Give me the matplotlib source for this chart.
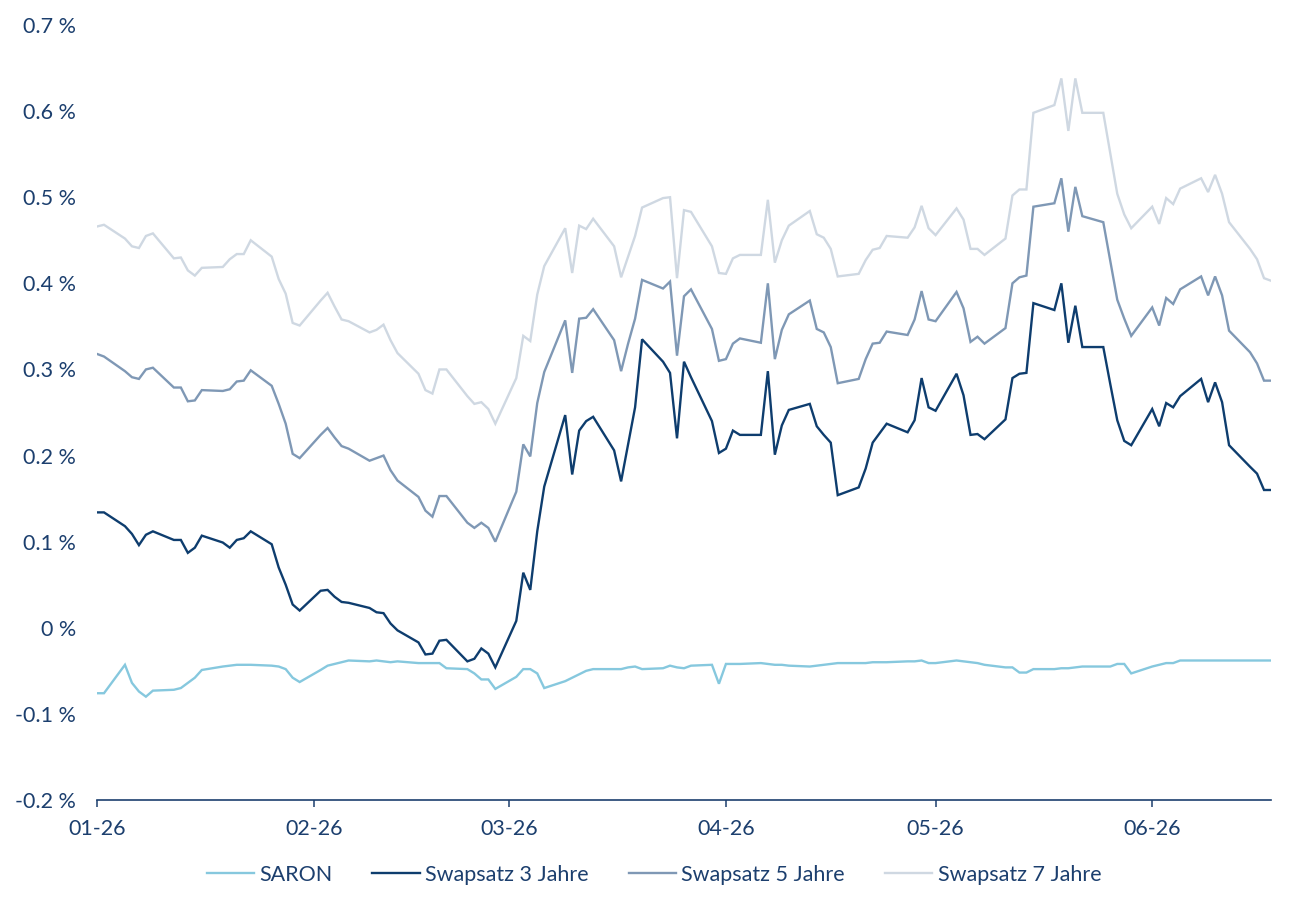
import matplotlib
matplotlib.use("Agg")
import matplotlib.pyplot as plt
import matplotlib.dates as mdates
from matplotlib.ticker import FuncFormatter
import pandas as pd
import numpy as np

# Business days Jan 1 – Jun 18, 2026 (x categories)
dates = pd.bdate_range("2026-01-01", "2026-06-18")

saron = [
    # Jan
    -0.076, -0.076, -0.043, -0.064, -0.074, -0.080, -0.073, -0.072, -0.070, -0.064, -0.058,
    -0.049, -0.045, -0.044, -0.043, -0.043, -0.043, -0.044, -0.045, -0.048, -0.058, -0.063,
    # Feb
    -0.049, -0.044, -0.042, -0.040, -0.038, -0.039, -0.038, -0.039, -0.040, -0.039,
    -0.041, -0.041, -0.041, -0.041, -0.047, -0.048, -0.053, -0.060, -0.060, -0.071,
    # Mar
    -0.057, -0.048, -0.048, -0.053, -0.070, -0.062, -0.058, -0.054, -0.050, -0.048,
    -0.048, -0.048, -0.046, -0.045, -0.048, -0.047, -0.044, -0.046, -0.047, -0.044,
    -0.043, -0.065,
    # Apr
    -0.042, -0.042, -0.042, -0.041, -0.042, -0.043, -0.043, -0.044, -0.045, -0.044, -0.043,
    -0.042, -0.041, -0.041, -0.041, -0.040, -0.040, -0.040, -0.039, -0.039, -0.038, -0.041,
    # May
    -0.041, -0.038, -0.039, -0.040, -0.041, -0.043, -0.046, -0.046, -0.052, -0.052, -0.048,
    -0.048, -0.047, -0.047, -0.046, -0.045, -0.045, -0.045, -0.042, -0.042, -0.053,
    # Jun
    -0.045, -0.043, -0.041, -0.041, -0.038, -0.038, -0.038, -0.038, -0.038, -0.038,
    -0.038, -0.038, -0.038, -0.038,
]

swap3 = [
    # Jan
    0.134, 0.134, 0.118, 0.109, 0.096, 0.108, 0.112, 0.102, 0.102, 0.087, 0.093,
    0.107, 0.099, 0.093, 0.102, 0.104, 0.112, 0.097, 0.070, 0.050, 0.027, 0.020,
    # Feb
    0.043, 0.044, 0.036, 0.030, 0.029, 0.023, 0.018, 0.017, 0.005, -0.003,
    -0.017, -0.031, -0.030, -0.015, -0.014, -0.039, -0.036, -0.024, -0.030, -0.046,
    # Mar
    0.008, 0.064, 0.044, 0.112, 0.164, 0.247, 0.178, 0.229, 0.240, 0.245,
    0.206, 0.170, 0.213, 0.256, 0.335, 0.309, 0.296, 0.220, 0.309, 0.291,
    0.240, 0.203,
    # Apr
    0.208, 0.229, 0.224, 0.224, 0.298, 0.201, 0.235, 0.253, 0.260, 0.234, 0.224,
    0.215, 0.154, 0.163, 0.185, 0.215, 0.226, 0.237, 0.227, 0.241, 0.290, 0.256,
    # May
    0.252, 0.295, 0.270, 0.224, 0.225, 0.219, 0.242, 0.290, 0.295, 0.296, 0.377,
    0.369, 0.400, 0.331, 0.374, 0.326, 0.326, 0.283, 0.241, 0.217, 0.212,
    # Jun
    0.254, 0.234, 0.261, 0.256, 0.269, 0.289, 0.262, 0.285, 0.262, 0.212,
    0.187, 0.179, 0.160, 0.160,
]

swap5 = [
    # Jan
    0.318, 0.315, 0.298, 0.291, 0.289, 0.300, 0.302, 0.279, 0.279, 0.263, 0.264,
    0.276, 0.275, 0.277, 0.286, 0.287, 0.299, 0.281, 0.260, 0.237, 0.202, 0.197,
    # Feb
    0.224, 0.232, 0.221, 0.211, 0.208, 0.194, 0.197, 0.200, 0.183, 0.171,
    0.152, 0.136, 0.129, 0.153, 0.153, 0.122, 0.116, 0.122, 0.116, 0.100,
    # Mar
    0.158, 0.213, 0.199, 0.261, 0.297, 0.357, 0.296, 0.359, 0.360, 0.370,
    0.334, 0.298, 0.330, 0.359, 0.404, 0.394, 0.402, 0.316, 0.385, 0.393,
    0.347, 0.310,
    # Apr
    0.312, 0.330, 0.336, 0.331, 0.400, 0.312, 0.346, 0.364, 0.380, 0.347, 0.343,
    0.326, 0.284, 0.289, 0.312, 0.330, 0.331, 0.344, 0.340, 0.358, 0.391, 0.358,
    # May
    0.356, 0.390, 0.371, 0.332, 0.338, 0.330, 0.348, 0.400, 0.407, 0.409, 0.489,
    0.493, 0.522, 0.460, 0.512, 0.478, 0.471, 0.426, 0.381, 0.359, 0.339,
    # Jun
    0.372, 0.351, 0.383, 0.376, 0.393, 0.408, 0.386, 0.408, 0.386, 0.345,
    0.320, 0.307, 0.287, 0.287,
]

swap7 = [
    # Jan
    0.466, 0.468, 0.452, 0.443, 0.441, 0.455, 0.458, 0.429, 0.430, 0.415, 0.409,
    0.418, 0.419, 0.428, 0.434, 0.434, 0.450, 0.431, 0.405, 0.388, 0.354, 0.351,
    # Feb
    0.380, 0.389, 0.373, 0.358, 0.356, 0.343, 0.346, 0.352, 0.334, 0.319,
    0.295, 0.276, 0.272, 0.300, 0.300, 0.269, 0.260, 0.262, 0.254, 0.237,
    # Mar
    0.290, 0.339, 0.333, 0.387, 0.420, 0.464, 0.412, 0.467, 0.463, 0.475,
    0.443, 0.407, 0.431, 0.455, 0.488, 0.499, 0.500, 0.406, 0.485, 0.483,
    0.443, 0.412,
    # Apr
    0.411, 0.429, 0.433, 0.433, 0.497, 0.424, 0.450, 0.467, 0.484, 0.457, 0.453,
    0.440, 0.408, 0.411, 0.427, 0.439, 0.441, 0.455, 0.453, 0.465, 0.490, 0.464,
    # May
    0.456, 0.487, 0.474, 0.440, 0.440, 0.433, 0.452, 0.502, 0.509, 0.509, 0.598,
    0.607, 0.638, 0.577, 0.638, 0.598, 0.598, 0.551, 0.504, 0.480, 0.464,
    # Jun
    0.489, 0.469, 0.499, 0.492, 0.510, 0.522, 0.506, 0.526, 0.504, 0.471,
    0.440, 0.428, 0.406, 0.403,
]

series_names = ["SARON", "Swapsatz 3 Jahre", "Swapsatz 5 Jahre", "Swapsatz 7 Jahre"]
series_values = [saron, swap3, swap5, swap7]
colors = ["#86c8de", "#0e3d6e", "#7f98b5", "#cfd8e2"]
text_color = "#1c3f6e"

plt.rcParams["font.family"] = ["Lato", "DejaVu Sans"]
FS = 15.5

fig = plt.figure(figsize=(13, 9.1), dpi=100)
ax = fig.add_axes([97 / 1300, 1 - 800 / 910, (1271 - 97) / 1300, (800 - 25) / 910])

for name, vals, c in zip(series_names, series_values, colors):
    ax.plot(dates, vals, color=c, lw=1.7, label=name, solid_joinstyle="miter")

ax.set_ylim(-0.2, 0.7)
ax.set_yticks(np.arange(-0.2, 0.71, 0.1))
ax.set_xlim(dates[0], dates[-1])


def yfmt(v, _):
    v = round(v, 2)
    if abs(v) < 1e-9:
        return "0 %"
    return f"{v:g} %"


ax.yaxis.set_major_formatter(FuncFormatter(yfmt))
ax.xaxis.set_major_locator(mdates.MonthLocator())
ax.xaxis.set_major_formatter(mdates.DateFormatter("%m-%y"))

for s in ["left", "right", "top"]:
    ax.spines[s].set_visible(False)
ax.spines["bottom"].set_color(text_color)
ax.spines["bottom"].set_linewidth(1.2)

ax.tick_params(axis="y", length=0, pad=15, labelsize=FS, labelcolor=text_color)
ax.tick_params(axis="x", length=5, width=1.1, color=text_color, pad=9,
               labelsize=FS, labelcolor=text_color)

leg = fig.legend(loc="center", bbox_to_anchor=(0.503, 1 - 875 / 910), ncol=4,
                 frameon=False, fontsize=FS, handlelength=2.2, handletextpad=0.25,
                 columnspacing=1.85)
for t in leg.get_texts():
    t.set_color(text_color)

fig.savefig("out.png", dpi=100, facecolor="white")
